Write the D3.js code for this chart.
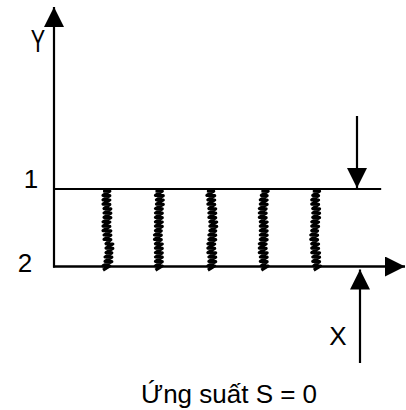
<!DOCTYPE html>
<html lang="vi">
    <head>
        <meta charset="UTF-8" />
        <title>Ứng suất S = 0</title>
        <script src="https://cdn.jsdelivr.net/npm/d3@7"></script>
        <style>
            body {
                margin: 0;
                background: #fff;
                overflow: hidden;
            }
            text {
                font-family: 'Liberation Sans', Arial, sans-serif;
                fill: #000;
            }
        </style>
    </head>
    <body>
        <div id="container"></div>
        <script>
            // levels of the two planes (2 = bottom, 1 = top)
            const levels = [
                { name: '1', value: 1 },
                { name: '2', value: 0 },
            ]
            // positions of the five hatched bands along X
            const bandPositions = [1, 2, 3, 4, 5]
            // hand-read sideways drift of each band (px), top to bottom
            const bandDrift = [
                [0, 0, 1, 0, 1, 3, 2, 0],
                [0, 1, 0, 0, -1, 0, 0, 0],
                [-1, 0, 1, 2, 1, 0, 1, 0],
                [1, 0, -1, 0, 0, -1, 0, 1],
                [0, -1, 0, -1, -2, -1, 0, 1],
            ]
            const captionText = 'Ứng suất S = 0'

            const width = 406
            const height = 410

            const x = d3.scaleLinear().domain([0, 6]).range([54, 368.6])
            const y = d3.scaleLinear().domain([0, 1]).range([266.5, 189])

            const svg = d3.select('#container').append('svg').attr('width', width).attr('height', height)

            const defs = svg.append('defs')
            defs.append('marker')
                .attr('id', 'head')
                .attr('viewBox', '0 0 10 10')
                .attr('refX', 10)
                .attr('refY', 5)
                .attr('markerUnits', 'userSpaceOnUse')
                .attr('markerWidth', 21)
                .attr('markerHeight', 20)
                .attr('orient', 'auto')
                .append('path')
                .attr('d', 'M0,0 L10,5 L0,10 Z')
                .attr('fill', '#000')

            const arrow = (x1, y1, x2, y2, w, head) =>
                svg.append('line')
                    .attr('x1', x1)
                    .attr('y1', y1)
                    .attr('x2', x2)
                    .attr('y2', y2)
                    .attr('stroke', '#000')
                    .attr('stroke-width', w)
                    .attr('marker-end', head ? 'url(#head)' : null)

            // Y axis
            arrow(x(0), y(0) + 1, x(0), 7, 2.2, true)
            // plane 1 (top line)
            arrow(x(0), y(1), x(6.24), y(1), 2.2, false)
            // plane 2 / X axis
            arrow(x(0) - 1, y(0), 405, y(0), 2.6, true)
            // downward arrow onto plane 1
            arrow(357, 116, 357, y(1) - 1, 2.2, true)
            // upward arrow onto plane 2
            arrow(360, 363, 360, y(0) + 3, 2.2, true)

            // hatched bands
            const zig = d3.line().curve(d3.curveLinear)
            bandPositions.forEach((p, i) => {
                const drift = bandDrift[i]
                const top = y(1) + 1
                const bottom = y(0) + 4
                const pts = []
                let k = 0
                for (let yy = top; yy <= bottom; yy += 2.2, k++) {
                    const t = (yy - top) / (bottom - top)
                    const d = drift[Math.min(drift.length - 1, Math.round(t * (drift.length - 1)))]
                    pts.push([x(p) + d + (k % 2 ? 3.4 : -3.4), yy + (k % 2 ? -1 : 1)])
                }
                svg.append('path')
                    .attr('d', zig(pts))
                    .attr('fill', 'none')
                    .attr('stroke', '#000')
                    .attr('stroke-width', 3.2)
                    .attr('stroke-linejoin', 'round')
            })

            // level labels
            svg.selectAll('.level')
                .data(levels)
                .enter()
                .append('text')
                .attr('class', 'level')
                .attr('x', (d) => (d.value ? 31 : 25))
                .attr('y', (d) => (d.value ? y(d.value) - 1.5 : y(d.value) + 5.5))
                .attr('text-anchor', 'middle')
                .style('font-size', '26px')
                .text((d) => d.name)

            // axis names
            svg.append('text')
                .attr('transform', 'translate(38,52) scale(0.72,1.05)')
                .attr('text-anchor', 'middle')
                .style('font-size', '30px')
                .text('Y')

            svg.append('text')
                .attr('x', 338)
                .attr('y', 345)
                .attr('text-anchor', 'middle')
                .style('font-size', '26px')
                .text('X')

            // caption
            svg.append('text')
                .attr('x', 229)
                .attr('y', 403)
                .attr('text-anchor', 'middle')
                .style('font-size', '26px')
                .text(captionText)
        </script>
    </body>
</html>
